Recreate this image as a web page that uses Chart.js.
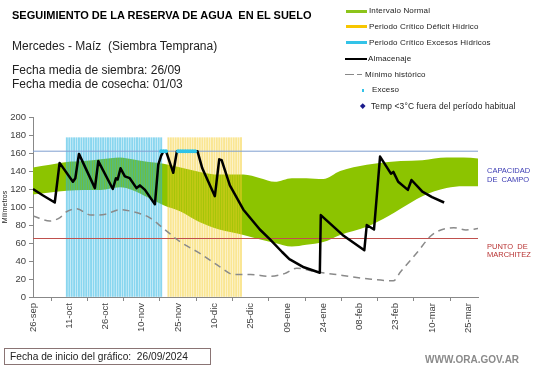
<!DOCTYPE html>
<html lang="es">
<head>
<meta charset="utf-8">
<script src="https://cdn.jsdelivr.net/npm/chart.js@4.4.1/dist/chart.umd.min.js"></script>
<style>
  body { margin: 0; width: 541px; height: 368px; position: relative; overflow: hidden; background: #fff;
         font-family: "Liberation Sans", Arial, sans-serif; color: #000; }
  #chart { position: absolute; left: 0; top: 0; }
  .t { position: absolute; white-space: pre; line-height: 1; }
  .lg { position: absolute; height: 10px; line-height: 10px; font-size: 8px; color: #222; white-space: pre; letter-spacing: 0.15px; }
  .sw { position: absolute; }
</style>
</head>
<body>
<canvas id="chart" width="541" height="368"></canvas>

<div class="t" style="left:12px; top:10px; font-size:11px; font-weight:bold;">SEGUIMIENTO DE LA RESERVA DE AGUA  EN EL SUELO</div>
<div class="t" style="left:12px; top:40px; font-size:12px; color:#222;">Mercedes - Maíz  (Siembra Temprana)</div>
<div class="t" style="left:12px; top:64px; font-size:12px; color:#222;">Fecha media de siembra: 26/09</div>
<div class="t" style="left:12px; top:77.5px; font-size:12px; color:#222;">Fecha media de cosecha: 01/03</div>

<!-- legend -->
<div class="sw" style="left:346px; top:9.5px; width:21px; height:3px; background:#8cc41a;"></div>
<div class="lg" style="left:369px; top:6px;">Intervalo Normal</div>
<div class="sw" style="left:346px; top:25px; width:21px; height:3px; background:#f7c600;"></div>
<div class="lg" style="left:369px; top:21.7px;">Periodo Crítico Déficit Hídrico</div>
<div class="sw" style="left:346px; top:41px; width:21px; height:3px; background:#33c3e8;"></div>
<div class="lg" style="left:369px; top:37.7px;">Periodo Crítico Excesos Hídricos</div>
<div class="sw" style="left:345px; top:58px; width:22px; height:2px; background:#000;"></div>
<div class="lg" style="left:368px; top:54.3px;">Almacenaje</div>
<div class="sw" style="left:345px; top:73.5px; width:9px; height:1.5px; background:#888;"></div>
<div class="sw" style="left:357px; top:73.5px; width:5px; height:1.5px; background:#888;"></div>
<div class="lg" style="left:365px; top:69.5px;">Mínimo histórico</div>
<div class="sw" style="left:361.5px; top:89px; width:2.5px; height:2.5px; background:#33c3e8;"></div>
<div class="lg" style="left:372px; top:85px;">Exceso</div>
<div class="sw" style="left:361px; top:104px; width:3.5px; height:3.5px; background:#1a1a8c; transform:rotate(45deg);"></div>
<div class="lg" style="left:371px; top:101px; font-size:8.4px;">Temp &lt;3°C fuera del período habitual</div>

<!-- reference lines labels -->
<div class="t" style="left:487px; top:167px; font-size:7.5px; line-height:8.5px; color:#3b3bb3;">CAPACIDAD
DE  CAMPO</div>
<div class="t" style="left:487px; top:242.5px; font-size:7.5px; line-height:8.5px; color:#b83232;">PUNTO  DE
MARCHITEZ</div>

<div class="t" style="left:4px; top:348px; width:207px; height:17px; border:1px solid #8a7474; box-sizing:border-box;"></div>
<div class="t" style="left:10px; top:351.5px; font-size:10.2px; color:#222;">Fecha de inicio del gráfico:  26/09/2024</div>
<div class="t" style="left:425px; top:355px; font-size:10px; font-weight:bold; color:#8a8a8a;">WWW.ORA.GOV.AR</div>

<script>
// x axis: days since 26-sep
const tickDays = [0, 15, 30, 45, 60, 75, 90, 105, 120, 135, 150, 165, 180];
const tickLabels = ["26-sep", "11-oct", "26-oct", "10-nov", "25-nov", "10-dic", "25-dic",
                    "09-ene", "24-ene", "08-feb", "23-feb", "10-mar", "25-mar"];

// Intervalo normal (band)
const bandDays  = [0, 7, 14, 21, 28, 36, 41, 48, 54, 61, 69, 77, 87, 94, 100, 107, 113, 120, 127, 138, 147, 152, 161, 171, 178, 184];
const bandUpper = [144, 147, 150, 151, 153, 155, 153, 150, 148, 144, 139, 136, 136, 132, 128, 132, 132, 131, 140, 147, 150, 151, 152, 155, 155, 154];
const bandLower = [114, 116, 118, 119, 119, 122, 119, 110, 102, 95, 83, 75, 69, 64, 60, 56, 58, 61, 69, 78, 90, 98, 112, 121, 123, 123];

// Mínimo histórico
const minDays   = [0, 7, 11, 14, 18, 24, 30, 36, 41, 48, 54, 61, 69, 77, 83, 90, 98, 104, 109, 117, 128, 139, 149, 152, 159, 165, 174, 179, 184];
const minValues = [90, 84.5, 88, 95, 98, 91, 92, 97, 95, 88.5, 76, 61, 48.5, 34, 25, 25, 23, 26, 32, 28, 24, 20, 18, 28, 50, 69, 77, 74.5, 76];

// Almacenaje
const almDays   = [0, 4, 9, 11, 16.5, 17.5, 19, 25.6, 27, 33, 34.3, 35, 36.2, 38, 40, 42.8, 44.2, 46.3, 50.4, 51.8, 53, 54, 55, 58, 59.5, 68, 70, 75.2, 77, 78,
                   81.4, 87, 93.8, 98, 103, 106, 112, 118.6, 119, 128, 137, 138, 141, 143.5, 148, 149, 151, 155, 156.5, 161, 165, 170];
const almValues = [120, 113, 105, 149, 128, 132, 159, 121, 151, 120, 132, 130.5, 143, 134, 132, 121, 124, 119, 103, 147, 157, 162, 162, 138, 162, 162, 143, 112, 153, 152,
                   124, 97, 75, 64, 50, 42, 33, 27, 91, 69, 52, 80, 75, 156, 137, 139, 128, 119, 130, 117, 111, 105];

// Exceso points
const excesoDays = [53, 54, 55, 60, 61, 62, 63, 64, 65, 66, 67];
const excesoValue = 162;

// critical periods (one stripe per day)
const excesoPeriodDays = [14, 15, 16, 17, 18, 19, 20, 21, 22, 23, 24, 25, 26, 27, 28, 29, 30, 31, 32, 33,
                          34, 35, 36, 37, 38, 39, 40, 41, 42, 43, 44, 45, 46, 47, 48, 49, 50, 51, 52, 53];
const deficitPeriodDays = [56, 57, 58, 59, 60, 61, 62, 63, 64, 65, 66, 67, 68, 69, 70, 71, 72, 73, 74, 75,
                           76, 77, 78, 79, 80, 81, 82, 83, 84, 85, 86];
const periodTop = 177;

const capacidadCampo = 162;
const puntoMarchitez = 65;
const lastDay = 184;

const pts = (xs, ys) => xs.map((x, i) => ({ x: x, y: ys[i] }));

Chart.defaults.font.family = "'Liberation Sans', Arial, sans-serif";

new Chart(document.getElementById("chart"), {
  type: "line",
  data: {
    datasets: [
      {
        label: "Intervalo Normal sup", data: pts(bandDays, bandUpper),
        borderWidth: 0, pointRadius: 0, fill: "+1", backgroundColor: "#8cc400",
        cubicInterpolationMode: "monotone", order: 10
      },
      {
        label: "Intervalo Normal inf", data: pts(bandDays, bandLower),
        borderWidth: 0, pointRadius: 0, fill: false,
        cubicInterpolationMode: "monotone", order: 10
      },
      {
        type: "bar", label: "Periodo Crítico Excesos Hídricos",
        data: excesoPeriodDays.map(d => ({ x: d, y: periodTop })),
        backgroundColor: "rgba(40,180,225,0.55)", barThickness: 1.3, grouped: false, order: 8
      },
      {
        type: "bar", label: "Periodo Crítico Déficit Hídrico",
        data: deficitPeriodDays.map(d => ({ x: d, y: periodTop })),
        backgroundColor: "rgba(245,205,40,0.5)", barThickness: 1.3, grouped: false, order: 8
      },
      {
        label: "Capacidad de campo", data: [{ x: 0, y: capacidadCampo }, { x: lastDay, y: capacidadCampo }],
        borderColor: "#7f9fd0", borderWidth: 1, pointRadius: 0, order: 6
      },
      {
        label: "Punto de marchitez", data: [{ x: 0, y: puntoMarchitez }, { x: lastDay, y: puntoMarchitez }],
        borderColor: "#c0504d", borderWidth: 1, pointRadius: 0, order: 6
      },
      {
        label: "Mínimo histórico", data: pts(minDays, minValues),
        borderColor: "#8a8a8a", borderWidth: 1.5, borderDash: [7, 5], pointRadius: 0,
        cubicInterpolationMode: "monotone", order: 5
      },
      {
        label: "Almacenaje", data: pts(almDays, almValues),
        borderColor: "#000", borderWidth: 2.5, pointRadius: 0, borderJoinStyle: "round", order: 2
      },
      {
        label: "Exceso", data: excesoDays.map(d => ({ x: d, y: excesoValue })),
        showLine: false, pointRadius: 2, pointBorderWidth: 0, pointBackgroundColor: "#2fc4e8", order: 1
      }
    ]
  },
  options: {
    responsive: false,
    animation: false,
    events: [],
    layout: { padding: { top: 117, right: 63, left: 0, bottom: 0 } },
    plugins: { legend: { display: false }, tooltip: { enabled: false } },
    scales: {
      x: {
        type: "linear", min: 0, max: lastDay, offset: false,
        afterFit: s => { s.height = 71; },
        afterBuildTicks: s => { s.ticks = tickDays.map(v => ({ value: v })); },
        ticks: {
          autoSkip: false, minRotation: 90, maxRotation: 90, padding: 2,
          color: "#404040", font: { size: 9.5 },
          callback: (v, i) => tickLabels[i]
        },
        grid: { drawOnChartArea: false, tickLength: 4, color: "#888" },
        border: { color: "#888" }
      },
      y: {
        min: 0, max: 200,
        afterFit: s => { s.width = 33; },
        ticks: { stepSize: 20, padding: 3, color: "#404040", font: { size: 9.5 } },
        grid: { drawOnChartArea: false, tickLength: 4, color: "#888" },
        border: { color: "#888" },
        title: { display: true, text: "Milímetros", font: { size: 7 }, color: "#222", padding: { top: 1, bottom: 0 } }
      }
    }
  }
});
</script>
</body>
</html>
